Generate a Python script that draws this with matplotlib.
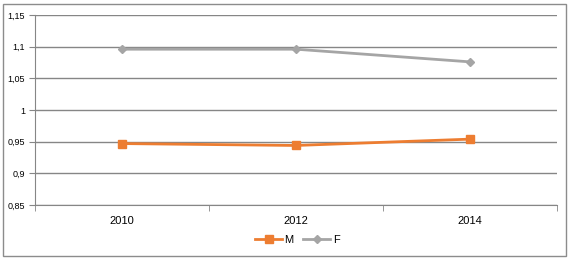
import matplotlib.pyplot as plt
from matplotlib.patches import Rectangle

# datos
years = ['2010', '2012', '2014']
m_vals = [0.947, 0.944, 0.954]
f_vals = [1.096, 1.096, 1.076]
yticks = [0.85, 0.9, 0.95, 1.0, 1.05, 1.1, 1.15]
ytick_labels = ['0,85', '0,9', '0,95', '1', '1,05', '1,1', '1,15']

plt.rcParams['font.family'] = ['Liberation Sans', 'DejaVu Sans']

fig = plt.figure(figsize=(5.74, 2.60), dpi=100)
fig.patches.append(Rectangle((3/574, 4/260), 563/574, 252/260, transform=fig.transFigure,
                             fill=False, edgecolor='#8c8c8c', linewidth=1))
ax = fig.add_axes([35/574, 1-205/260, 522/574, 190/260])

x = range(len(years))
ax.plot(x, m_vals, color='#ed7d31', lw=2, marker='s', ms=6, label='M')
ax.plot(x, f_vals, color='#a5a5a5', lw=2, marker='D', ms=4, label='F')

ax.set_xlim(-0.5, 2.5)
ax.set_ylim(0.85, 1.15)
ax.set_yticks(yticks)
ax.set_yticklabels(ytick_labels, fontsize=6.5)
ax.set_xticks(list(x))
ax.set_xticklabels(years, fontsize=8)
ax.set_xticks([-0.5, 0.5, 1.5, 2.5], minor=True)
ax.tick_params(axis='x', which='major', length=0, pad=8)
ax.tick_params(axis='x', which='minor', length=4, color='#868686')
ax.tick_params(axis='y', length=4, color='#868686', pad=3)
ax.grid(axis='y', color='#868686', lw=1)
ax.set_axisbelow(True)
for s in ['top', 'right']:
    ax.spines[s].set_visible(False)
for s in ['left', 'bottom']:
    ax.spines[s].set_color('#868686')

fig.legend(loc='center', bbox_to_anchor=(297/574, 1-240/260), ncol=2, frameon=False,
           fontsize=8, handlelength=2.5, columnspacing=0.8, handletextpad=0.2)

plt.savefig('out.png', dpi=100)
